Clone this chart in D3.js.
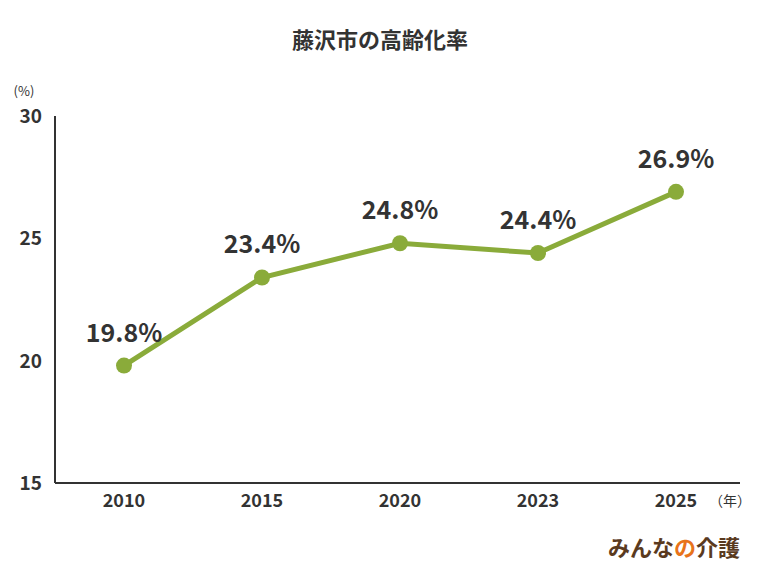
<!DOCTYPE html>
<html><head><meta charset="utf-8">
<script src="https://cdn.jsdelivr.net/npm/d3@7"></script>
<style>body{margin:0;background:#fff}text{font-family:"Noto Sans CJK JP","Noto Sans",sans-serif;fill:#333}</style>
</head><body><svg id="c" width="760" height="570"></svg>
<script>
const years=["2010","2015","2020","2023","2025"];
const values=[19.8,23.4,24.8,24.4,26.9];
const yTicks=[15,20,25,30];
const svg=d3.select("#c");
const x=d3.scalePoint().domain(years).range([124,676]);
const y=d3.scaleLinear().domain([15,30]).range([483,116]);
svg.append("text").attr("x",380).attr("y",48).attr("text-anchor","middle").attr("font-size",22).attr("font-weight",700).text("藤沢市の高齢化率");
svg.append("line").attr("x1",55).attr("x2",55).attr("y1",116).attr("y2",483).attr("stroke","#333").attr("stroke-width",2);
svg.append("line").attr("x1",55).attr("x2",740).attr("y1",483).attr("y2",483).attr("stroke","#333").attr("stroke-width",2);
svg.selectAll(".yt").data(yTicks).join("text").attr("x",42).attr("y",d=>y(d)+7).attr("text-anchor","end").attr("font-size",19).attr("font-weight",700).text(d=>d);
svg.append("text").attr("x",24).attr("y",96).attr("text-anchor","middle").attr("font-size",13).text("(%)");
svg.selectAll(".xt").data(years).join("text").attr("x",d=>x(d)).attr("y",507).attr("text-anchor","middle").attr("font-size",18).attr("font-weight",700).text(d=>d);
svg.append("text").attr("x",730).attr("y",506).attr("text-anchor","middle").attr("font-size",14).text("（年）");
const line=d3.line().x((d,i)=>x(years[i])).y(d=>y(d));
svg.append("path").datum(values).attr("d",line).attr("fill","none").attr("stroke","#8aab3a").attr("stroke-width",5);
svg.selectAll(".pt").data(values).join("circle").attr("cx",(d,i)=>x(years[i])).attr("cy",d=>y(d)).attr("r",8).attr("fill","#8aab3a");
svg.selectAll(".lb").data(values).join("text").attr("x",(d,i)=>x(years[i])).attr("y",d=>y(d)-24).attr("text-anchor","middle").attr("font-size",25).attr("font-weight",700).text(d=>d.toFixed(1)+"%");
const logo=svg.append("text").attr("x",740).attr("y",556).attr("text-anchor","end").attr("font-size",22).attr("font-weight",700);
logo.append("tspan").style("fill","#5a3a1e").text("みんな");
logo.append("tspan").style("fill","#e8731a").text("の");
logo.append("tspan").style("fill","#5a3a1e").text("介護");
</script></body></html>
